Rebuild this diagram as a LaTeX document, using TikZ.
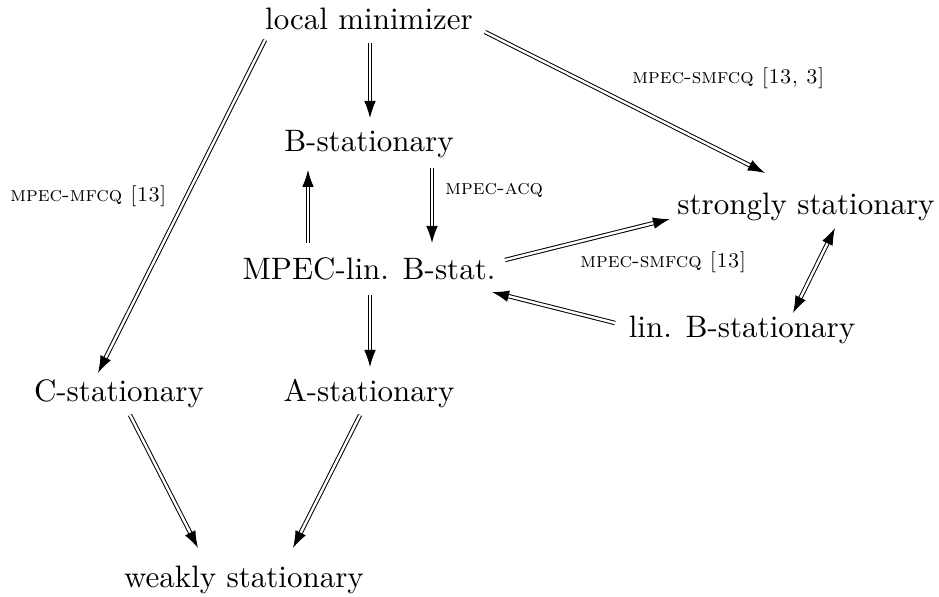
\documentclass[tikz,border=0pt]{standalone}
\usepackage{fontspec}
\setmainfont{lmroman10-regular}[Extension=.otf,SmallCapsFont=lmromancaps10-regular]
\usetikzlibrary{arrows.meta,calc}
\begin{document}
\begin{tikzpicture}[x=0.5pt,y=-0.5pt,
  lbl/.style={anchor=base,inner sep=0pt,font=\fontsize{15.5}{18}\selectfont},
  note/.style={anchor=base west,inner sep=0pt,font=\fontsize{10.5}{12}\selectfont\scshape},
  imp/.style={double,double distance=1.2pt,line width=0.5pt,-{Latex[length=8.5pt,width=5.8pt]}},
  imp2/.style={double,double distance=1.2pt,line width=0.5pt,{Latex[length=8.5pt,width=5.8pt]}-{Latex[length=8.5pt,width=5.8pt]}}]
\useasboundingbox (0,0) rectangle (939,597);
\node[lbl] (LM) at (369,30) {local minimizer};
\node[lbl] (B) at (369,152) {B-stationary};
\node[lbl] (M) at (369,280) {MPEC-lin. B-stat.};
\node[lbl] (S) at (806,215) {strongly stationary};
\node[lbl] (L) at (742,338) {lin. B-stationary};
\node[lbl] (C) at (119,402) {C-stationary};
\node[lbl] (A) at (369,402) {A-stationary};
\node[lbl] (W) at (244,588) {weakly stationary};
\draw[imp] ($(LM.base)+(1,13)$) -- ($(B.base)+(1,-34)$);
\draw[imp] ($(B.base)+(63,16)$) -- ($(M.base)+(63,-37)$);
\draw[imp] ($(M.base)+(-61,-37)$) -- ($(B.base)+(-61,18)$);
\draw[imp] ($(M.base)+(1,15)$) -- ($(A.base)+(1,-35)$);
\draw[imp] ($(LM.base)+(-104,10)$) -- ($(C.base)+(-21,-29)$);
\draw[imp] ($(LM.base)+(116,2)$) -- ($(S.base)+(-41,-42)$);
\draw[imp] ($(M.base)+(136,-20)$) -- ($(S.base)+(-136,4)$);
\draw[imp] ($(L.base)+(-127,-15)$) -- ($(M.base)+(123,12)$);
\draw[imp2] ($(S.base)+(29,13)$) -- ($(L.base)+(51,-25)$);
\draw[imp] ($(C.base)+(11,13)$) -- ($(W.base)+(-46,-40)$);
\draw[imp] ($(A.base)+(-9,13)$) -- ($(W.base)+(49,-40)$);
\node[note] (n1) at (445,195) {mpec-acq};
\node[note] (n2) at (10,202) {mpec-mfcq [13]};
\node[note] (n3) at (632,84) {mpec-smfcq [13, 3]};
\node[note] (n4) at (580,268) {mpec-smfcq [13]};
\end{tikzpicture}
\end{document}
